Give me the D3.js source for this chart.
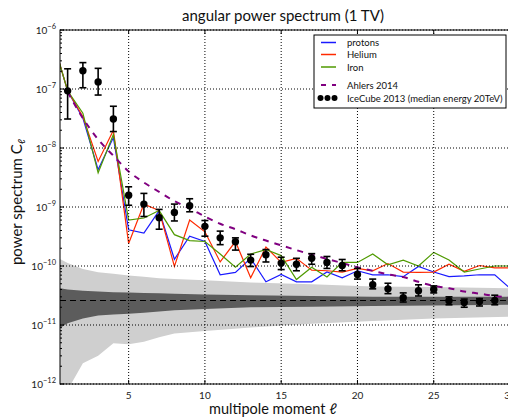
<!DOCTYPE html>
<html>
<head>
<meta charset="utf-8">
<script src="https://cdn.jsdelivr.net/npm/d3@7"></script>
<style>
  html, body { margin: 0; padding: 0; background: #fff; }
  svg { display: block; font-family: Lato, "DejaVu Sans", sans-serif; }
</style>
</head>
<body>
<svg id="chart" width="508" height="419"></svg>
<script>
// ---------- data ----------
const ells = d3.range(0, 31); // multipole moments 0..30 for simulated spectra
const protons = [7.1e-7, 9.3e-8, 3.2e-8, 4.3e-9, 1.5e-8, 4.1e-10, 3.6e-10, 8.7e-10, 1.3e-10, 3.2e-10,
  2.6e-10, 7.1e-11, 7.8e-11, 1.35e-10, 5.4e-11, 7.2e-11, 5.4e-11, 5.4e-11, 7.9e-11, 6.3e-11,
  8.3e-11, 7.1e-11, 7.1e-11, 6.6e-11, 9.8e-11, 7.9e-11, 6.6e-11, 6.8e-11, 7.1e-11, 7.1e-11, 4.2e-11];
const helium = [7.1e-7, 9.3e-8, 3.4e-8, 5.9e-9, 2.0e-8, 2.4e-10, 1.12e-9, 8.7e-10, 9.8e-11, 6.0e-10,
  3.8e-10, 1.17e-10, 2.6e-10, 6.3e-11, 2.1e-10, 1.15e-10, 1.35e-10, 8.5e-11, 8.3e-11, 7.9e-11,
  9.1e-11, 8.3e-11, 1.1e-10, 7.9e-11, 7.8e-11, 7.9e-11, 1.07e-10, 8.1e-11, 1.02e-10, 9.3e-11, 9.3e-11];
const iron = [7.1e-7, 9.3e-8, 3.9e-8, 3.8e-9, 1.7e-8, 6.0e-10, 6.5e-10, 8.7e-10, 3.4e-10, 2.7e-10,
  2.6e-10, 1.6e-10, 9.5e-11, 1.6e-10, 1.9e-10, 1.5e-10, 5.9e-11, 9.5e-11, 6.5e-11, 1.15e-10,
  1.15e-10, 1.6e-10, 1.05e-10, 1.26e-10, 1.0e-10, 1.7e-10, 1.26e-10, 7.9e-11, 8.9e-11, 1.0e-10, 1.0e-10];

const ahlersL = d3.range(1, 31);
const ahlers = [8.9e-8, 3.2e-8, 1.4e-8, 7.4e-9, 4.0e-9, 2.6e-9, 1.8e-9, 1.26e-9, 9.5e-10, 6.9e-10,
  5.2e-10, 4.2e-10, 3.3e-10, 2.7e-10, 2.24e-10, 1.86e-10, 1.55e-10, 1.32e-10, 1.12e-10, 9.5e-11,
  8.3e-11, 7.2e-11, 6.5e-11, 5.4e-11, 4.6e-11, 4.2e-11, 3.7e-11, 3.4e-11, 3.1e-11, 2.9e-11];

const icL = d3.range(1, 30);
const icVal = [9.3e-8, 2.04e-7, 1.32e-7, 3.1e-8, 1.58e-9, 1.12e-9, 6.6e-10, 8.1e-10, 1.05e-9, 4.7e-10,
  3.0e-10, 2.57e-10, 1.26e-10, 1.55e-10, 1.12e-10, 1.07e-10, 1.35e-10, 1.15e-10, 1.02e-10, 7.2e-11,
  4.8e-11, 4.1e-11, 2.9e-11, 3.8e-11, 4.0e-11, 2.57e-11, 2.4e-11, 2.5e-11, 2.6e-11];
const icLow = [3.1e-8, 1.05e-7, 7.9e-8, 1.9e-8, 1.07e-9, 6.9e-10, 4.2e-10, 5.8e-10, 8.3e-10, 3.2e-10,
  2.3e-10, 1.86e-10, 9.8e-11, 1.17e-10, 8.7e-11, 8.3e-11, 1.07e-10, 9.1e-11, 8.3e-11, 6.0e-11,
  4.1e-11, 3.4e-11, 2.45e-11, 3.1e-11, 3.5e-11, 2.2e-11, 2.0e-11, 2.1e-11, 2.2e-11];
const icHigh = [2.2e-7, 2.8e-7, 2.24e-7, 5.1e-8, 2.2e-9, 1.7e-9, 9.1e-10, 1.12e-9, 1.38e-9, 5.9e-10,
  3.9e-10, 3.0e-10, 1.58e-10, 1.9e-10, 1.41e-10, 1.35e-10, 1.62e-10, 1.45e-10, 1.29e-10, 9.1e-11,
  6.0e-11, 5.1e-11, 3.5e-11, 4.8e-11, 4.6e-11, 3.0e-11, 2.75e-11, 2.8e-11, 3.2e-11];

// isotropic expectation (dashed) with 1σ / 2σ bands
const bandL = [0.5, 1, 2, 3, 4, 5, 6, 7, 8, 10, 13, 17, 21, 25, 30];
const isoMean = 2.6e-11;
const band2Hi = [1.32e-10, 1.12e-10, 8.9e-11, 7.8e-11, 7.4e-11, 6.9e-11, 6.6e-11, 6.2e-11, 6.0e-11, 5.75e-11, 5.25e-11, 4.9e-11, 4.5e-11, 4.4e-11, 4.2e-11];
const band1Hi = [4.2e-11, 4.0e-11, 3.8e-11, 3.7e-11, 3.6e-11, 3.55e-11, 3.5e-11, 3.45e-11, 3.4e-11, 3.3e-11, 3.2e-11, 3.1e-11, 3.0e-11, 3.0e-11, 3.0e-11];
const band1Lo = [8.9e-12, 1.07e-11, 1.29e-11, 1.45e-11, 1.51e-11, 1.55e-11, 1.62e-11, 1.7e-11, 1.78e-11, 1.86e-11, 2.0e-11, 2.04e-11, 2.1e-11, 2.14e-11, 2.2e-11];
const band2Lo = [3.2e-13, 7.9e-13, 2.24e-12, 3.0e-12, 4.9e-12, 4.7e-12, 5.2e-12, 6.2e-12, 7.2e-12, 7.9e-12, 9.1e-12, 1.05e-11, 1.17e-11, 1.29e-11, 1.38e-11];

const xTicks = [5, 10, 15, 20, 25, 30];
const yTicks = [1e-12, 1e-11, 1e-10, 1e-9, 1e-8, 1e-7, 1e-6];

const seriesNames = ["protons", "Helium", "Iron"];
const seriesColors = ["#1a1aff", "#ff2a00", "#4f9a00"];
const seriesData = [protons, helium, iron];

// ---------- layout ----------
const svg = d3.select("#chart");
const pL = 60, pR = 510, pT = 30, pB = 384;
const x = d3.scaleLinear().domain([0.5, 30]).range([pL, pR]);
const y = d3.scaleLog().domain([1e-12, 1e-6]).range([pB, pT]);

svg.append("defs").append("clipPath").attr("id", "clip")
  .append("rect").attr("x", pL).attr("y", pT).attr("width", pR - pL).attr("height", pB - pT);

const plot = svg.append("g").attr("clip-path", "url(#clip)");

// bands
const area = (hi, lo) => d3.area().x((d, i) => x(bandL[i])).y0((d, i) => y(lo[i])).y1((d, i) => y(hi[i]));
plot.append("path").datum(bandL).attr("d", area(band2Hi, band2Lo)).attr("fill", "#cfcfcf");
plot.append("path").datum(bandL).attr("d", area(band1Hi, band1Lo)).attr("fill", "#5c5c5c");
plot.append("line").attr("x1", x(0.5)).attr("x2", x(30)).attr("y1", y(isoMean)).attr("y2", y(isoMean))
  .attr("stroke", "#000").attr("stroke-width", 1.2).attr("stroke-dasharray", "6,4");

// grid
const grid = svg.append("g");
xTicks.forEach(t => grid.append("line").attr("x1", x(t)).attr("x2", x(t)).attr("y1", pT).attr("y2", pB)
  .attr("stroke", "#000").attr("stroke-width", 1).attr("stroke-dasharray", "1,2"));
yTicks.forEach(t => grid.append("line").attr("x1", pL).attr("x2", pR).attr("y1", y(t)).attr("y2", y(t))
  .attr("stroke", "#000").attr("stroke-width", 1).attr("stroke-dasharray", "1,2"));

// simulated spectra
const line = d3.line().x((d, i) => x(ells[i])).y(d => y(d));
seriesData.forEach((s, k) => {
  plot.append("path").datum(s).attr("d", line).attr("fill", "none")
    .attr("stroke", seriesColors[k]).attr("stroke-width", 1.2);
});

// Ahlers 2014
const aLine = d3.line().x((d, i) => x(ahlersL[i])).y(d => y(d)).curve(d3.curveMonotoneX);
plot.append("path").datum(ahlers).attr("d", aLine).attr("fill", "none")
  .attr("stroke", "#800080").attr("stroke-width", 2).attr("stroke-dasharray", "6,6");

// IceCube points
const ic = plot.append("g");
icVal.forEach((v, i) => {
  const cx = x(icL[i]);
  ic.append("line").attr("x1", cx).attr("x2", cx).attr("y1", y(icLow[i])).attr("y2", y(icHigh[i]))
    .attr("stroke", "#000").attr("stroke-width", 1.6);
  [icLow[i], icHigh[i]].forEach(e => ic.append("line").attr("x1", cx - 3.5).attr("x2", cx + 3.5)
    .attr("y1", y(e)).attr("y2", y(e)).attr("stroke", "#000").attr("stroke-width", 1.6));
  ic.append("circle").attr("cx", cx).attr("cy", y(v)).attr("r", 3.7).attr("fill", "#000");
});

// frame
svg.append("rect").attr("x", pL).attr("y", pT).attr("width", pR - pL).attr("height", pB - pT)
  .attr("fill", "none").attr("stroke", "#000").attr("stroke-width", 1);

// ticks (inside)
const tk = svg.append("g").attr("stroke", "#000").attr("stroke-width", 1);
xTicks.forEach(t => {
  tk.append("line").attr("x1", x(t)).attr("x2", x(t)).attr("y1", pB).attr("y2", pB - 4);
  tk.append("line").attr("x1", x(t)).attr("x2", x(t)).attr("y1", pT).attr("y2", pT + 4);
});
yTicks.forEach(t => tk.append("line").attr("x1", pL).attr("x2", pL + 4).attr("y1", y(t)).attr("y2", y(t)));
y.ticks().forEach(t => {
  const lg = Math.log10(t);
  if (Math.abs(lg - Math.round(lg)) > 1e-6)
    tk.append("line").attr("x1", pL).attr("x2", pL + 2).attr("y1", y(t)).attr("y2", y(t));
});

// tick labels
const xl = svg.append("g").attr("font-size", 10).attr("fill", "#222").attr("text-anchor", "middle");
xTicks.forEach(t => xl.append("text").attr("x", x(t)).attr("y", 399).text(t));
const yl = svg.append("g").attr("font-size", 10).attr("fill", "#222").attr("text-anchor", "end");
yTicks.forEach(t => {
  const e = Math.round(Math.log10(t));
  const tx = yl.append("text").attr("x", 56).attr("y", y(t) + 3.5);
  tx.append("tspan").text("10");
  tx.append("tspan").attr("dy", -5).attr("font-size", 7.5).text("\u2212" + Math.abs(e));
});

// titles
svg.append("text").attr("x", 283).attr("y", 21).attr("text-anchor", "middle")
  .attr("font-size", 15).attr("fill", "#111").text("angular power spectrum (1 TV)");
svg.append("text").attr("x", 273).attr("y", 414).attr("text-anchor", "middle")
  .attr("font-size", 14.5).attr("fill", "#111").text("multipole moment \u2113");
const yt = svg.append("text").attr("transform", "translate(22,202) rotate(-90)").attr("text-anchor", "middle")
  .attr("font-size", 15).attr("fill", "#111");
yt.append("tspan").text("power spectrum C");
yt.append("tspan").attr("dy", 3).attr("font-size", 10).text("\u2113");

// legend
const lgd = svg.append("g");
lgd.append("rect").attr("x", 314).attr("y", 35).attr("width", 192).attr("height", 73)
  .attr("fill", "#fff").attr("stroke", "#000").attr("stroke-width", 1);
const legY = [42.5, 54.5, 67];
seriesNames.forEach((n, k) => {
  lgd.append("line").attr("x1", 321).attr("x2", 336).attr("y1", legY[k]).attr("y2", legY[k])
    .attr("stroke", seriesColors[k]).attr("stroke-width", 1.5);
  lgd.append("text").attr("x", 347).attr("y", legY[k] + 3.5).attr("font-size", 9.5).attr("fill", "#111").text(n);
});
lgd.append("line").attr("x1", 321).attr("x2", 336).attr("y1", 85).attr("y2", 85)
  .attr("stroke", "#800080").attr("stroke-width", 2).attr("stroke-dasharray", "5,6");
lgd.append("text").attr("x", 347).attr("y", 88.5).attr("font-size", 9.5).attr("fill", "#111").text("Ahlers 2014");
[320.5, 327.5, 334.5].forEach(cx => lgd.append("circle").attr("cx", cx).attr("cy", 98).attr("r", 3).attr("fill", "#000"));
lgd.append("text").attr("x", 347).attr("y", 101.5).attr("font-size", 9.5).attr("fill", "#111").text("IceCube 2013 (median energy 20TeV)");
</script>
</body>
</html>
